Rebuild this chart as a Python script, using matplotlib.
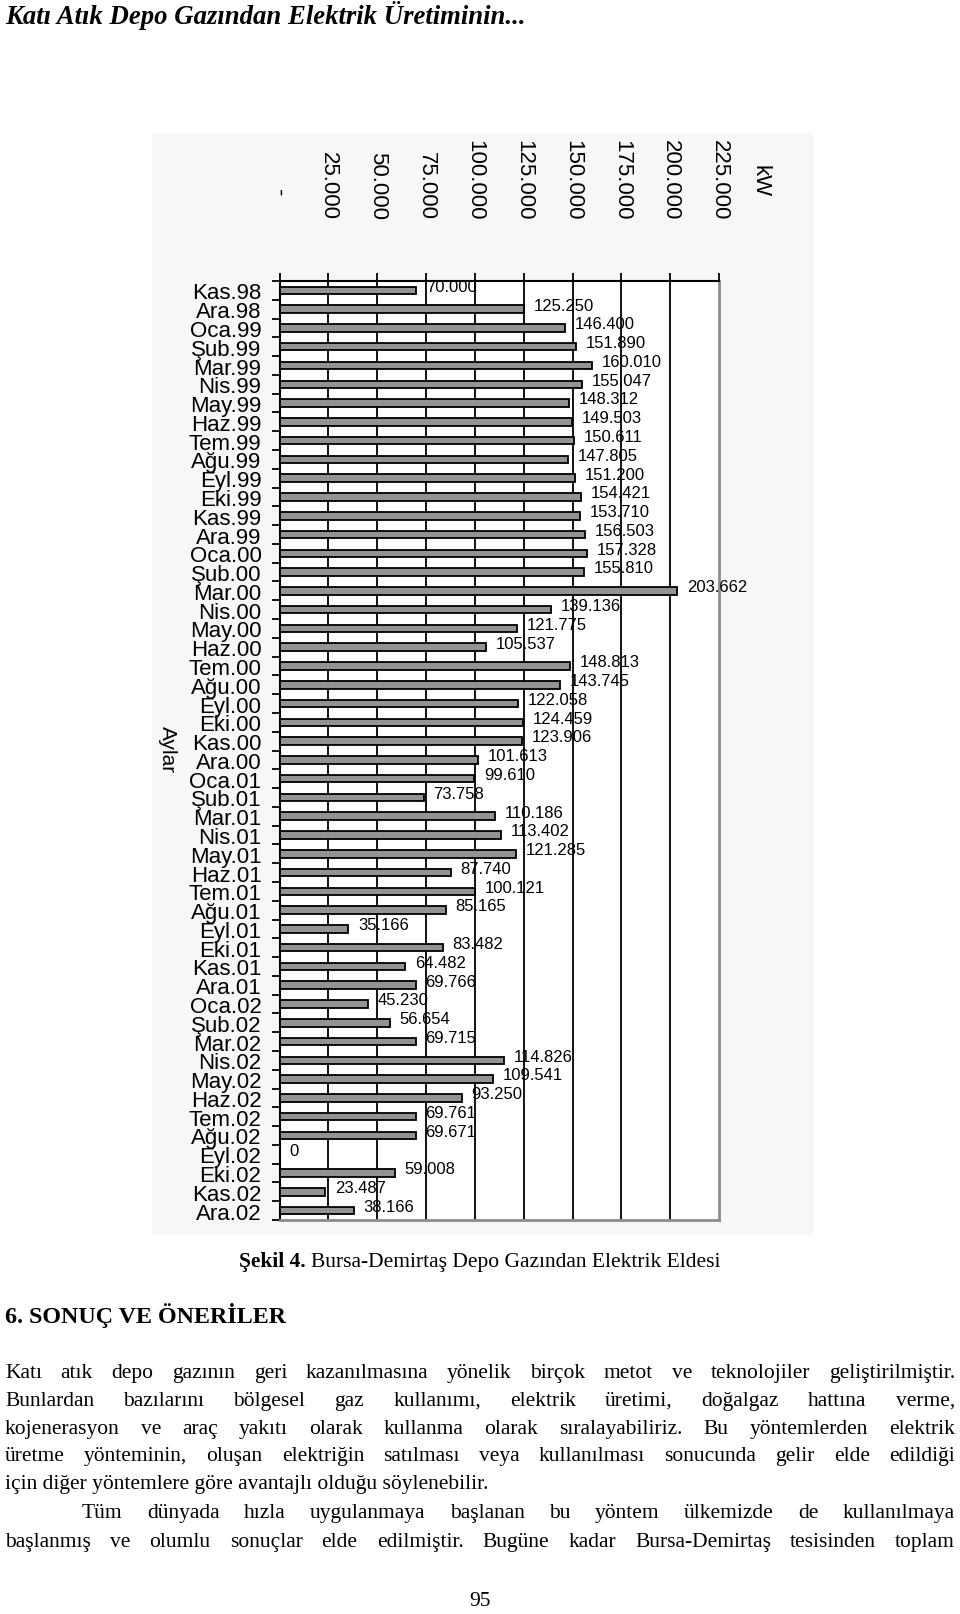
import matplotlib
matplotlib.use("Agg")
import matplotlib.pyplot as plt
from matplotlib.patches import Rectangle
import numpy as np

# ---------------- data ----------------
months = ["Kas.98", "Ara.98",
          "Oca.99", "Şub.99", "Mar.99", "Nis.99", "May.99", "Haz.99",
          "Tem.99", "Ağu.99", "Eyl.99", "Eki.99", "Kas.99", "Ara.99",
          "Oca.00", "Şub.00", "Mar.00", "Nis.00", "May.00", "Haz.00",
          "Tem.00", "Ağu.00", "Eyl.00", "Eki.00", "Kas.00", "Ara.00",
          "Oca.01", "Şub.01", "Mar.01", "Nis.01", "May.01", "Haz.01",
          "Tem.01", "Ağu.01", "Eyl.01", "Eki.01", "Kas.01", "Ara.01",
          "Oca.02", "Şub.02", "Mar.02", "Nis.02", "May.02", "Haz.02",
          "Tem.02", "Ağu.02", "Eyl.02", "Eki.02", "Kas.02", "Ara.02"]
power_kw = [70000, 125250,
            146400, 151890, 160010, 155047, 148312, 149503,
            150611, 147805, 151200, 154421, 153710, 156503,
            157328, 155810, 203662, 139136, 121775, 105537,
            148813, 143745, 122058, 124459, 123906, 101613,
            99610, 73758, 110186, 113402, 121285, 87740,
            100121, 85165, 35166, 83482, 64482, 69766,
            45230, 56654, 69715, 114826, 109541, 93250,
            69761, 69671, 0, 59008, 23487, 38166]
x_ticks = [0, 25000, 50000, 75000, 100000, 125000, 150000, 175000, 200000, 225000]
x_unit = "kW"
y_title = "Aylar"

header = "Katı Atık Depo Gazından Elektrik Üretiminin..."
caption_bold = "Şekil 4."
caption_rest = "Bursa-Demirtaş Depo Gazından Elektrik Eldesi"
section = "6. SONUÇ VE ÖNERİLER"
para_lines = [
    ("Katı atık depo gazının geri kazanılmasına yönelik birçok metot ve teknolojiler geliştirilmiştir.", True, 0),
    ("Bunlardan bazılarını bölgesel gaz kullanımı, elektrik üretimi, doğalgaz hattına verme,", True, 0),
    ("kojenerasyon ve araç yakıtı olarak kullanma olarak sıralayabiliriz. Bu yöntemlerden elektrik", True, 0),
    ("üretme yönteminin, oluşan elektriğin satılması veya kullanılması sonucunda gelir elde edildiği", True, 0),
    ("için diğer yöntemlere göre avantajlı olduğu söylenebilir.", False, 0),
    ("Tüm dünyada hızla uygulanmaya başlanan bu yöntem ülkemizde de kullanılmaya", True, 77),
    ("başlanmış ve olumlu sonuçlar elde edilmiştir. Bugüne kadar Bursa-Demirtaş tesisinden toplam", True, 0),
]
page_number = "95"

# ---------------- figure ----------------
W, H = 960, 1615
fig = plt.figure(figsize=(W / 100, H / 100), dpi=100)
fig.patch.set_facecolor("white")

def fx(px):
    return px / W

def fy(py):
    return 1 - py / H

# light gray chart background (pasted image)
fig.patches.append(Rectangle((fx(152), fy(1236)), fx(814) - fx(152), fy(134) - fy(1236),
                             transform=fig.transFigure, facecolor="#f7f7f7",
                             edgecolor="none", zorder=-5))

ax = fig.add_axes([fx(279.5), fy(1221), fx(719) - fx(279.5), fy(282) - fy(1221)])
ax.set_zorder(2)
ax.set_facecolor("white")

pos = np.arange(len(months))
ax.barh(pos, power_kw, height=0.4, color="#939393", edgecolor="black",
        linewidth=1.3, zorder=3)

ax.set_xlim(x_ticks[0], x_ticks[-1])
ax.set_ylim(len(months) - 0.5, -0.5)

for t in x_ticks[1:-1]:
    ax.axvline(t, color="black", lw=1.3, zorder=1)

# x ticks on top, rotated labels
ax.xaxis.tick_top()
ax.set_xticks(x_ticks)
xt_labels = []
for t in x_ticks:
    if t == 0:
        xt_labels.append("-    ")
    else:
        xt_labels.append(f"{t:,}".replace(",", "."))
ax.set_xticklabels(xt_labels, rotation=-90, fontsize=16, family="Liberation Sans")
ax.tick_params(axis="x", which="major", direction="out", length=5.5, width=1.3,
               pad=39, top=True, bottom=False)

# y: boundary ticks + centered labels
ax.set_yticks(np.arange(-0.5, len(months), 1.0))
ax.set_yticklabels([])
ax.set_yticks(pos, minor=True)
ax.set_yticklabels(months, minor=True, fontsize=16, family="Liberation Sans")
ax.tick_params(axis="y", which="major", direction="out", length=5.8, width=1.3)
ax.tick_params(axis="y", which="minor", length=0, pad=13)

for side in ("left", "top"):
    ax.spines[side].set_color("black")
    ax.spines[side].set_linewidth(1.5)
for side in ("right", "bottom"):
    ax.spines[side].set_color("#8c8c8c")
    ax.spines[side].set_linewidth(2)

# value labels
for i, v in enumerate(power_kw):
    lbl = "0" if v == 0 else f"{v:,}".replace(",", ".")
    ax.annotate(lbl, (v, i), xytext=(7, 3), textcoords="offset points",
                ha="left", va="center", fontsize=12, family="Liberation Sans",
                zorder=4)

fig.text(fx(760), fy(181), x_unit, rotation=-90, ha="center", va="center",
         fontsize=16, family="Liberation Sans")
fig.text(fx(167), fy(750), y_title, rotation=-90, ha="center", va="center",
         fontsize=15, family="Liberation Sans")

# ---------------- page text ----------------
renderer = fig.canvas.get_renderer()
SERIF = "Liberation Serif"

def width_px(s, **kw):
    t = fig.text(0, 0, s, **kw)
    w = t.get_window_extent(renderer).width
    t.remove()
    return w

def fit_size(s, target, **kw):
    w = width_px(s, fontsize=10, **kw)
    return 10 * target / w

# header
hs = fit_size(header, 522, family=SERIF, weight="bold", style="italic")
fig.text(fx(5), fy(24), header, fontsize=hs, family=SERIF, weight="bold",
         style="italic", ha="left", va="baseline")

# caption
body_size = 15.5
cap_bold_w = width_px(caption_bold + " ", fontsize=body_size, family=SERIF, weight="bold")
cap_rest_w = width_px(caption_rest, fontsize=body_size, family=SERIF)
cx0 = 480 - (cap_bold_w + cap_rest_w) / 2
fig.text(fx(cx0), fy(1267), caption_bold + " ", fontsize=body_size, family=SERIF,
         weight="bold", ha="left", va="baseline")
fig.text(fx(cx0 + cap_bold_w), fy(1267), caption_rest, fontsize=body_size,
         family=SERIF, ha="left", va="baseline")

# section title
ss = fit_size(section, 281, family=SERIF, weight="bold")
fig.text(fx(5), fy(1323), section, fontsize=ss, family=SERIF, weight="bold",
         ha="left", va="baseline")

# paragraph, justified
line_y = [1378, 1406, 1434, 1461, 1489, 1518, 1547]
x_left, x_right = 5, 955
for (line, just, indent), yb in zip(para_lines, line_y):
    words = line.split(" ")
    x0 = x_left + indent
    if just and len(words) > 1:
        ws = [width_px(w, fontsize=body_size, family=SERIF) for w in words]
        gap = (x_right - x0 - sum(ws)) / (len(words) - 1)
        x = x0
        for w, wpx in zip(words, ws):
            fig.text(fx(x), fy(yb), w, fontsize=body_size, family=SERIF,
                     ha="left", va="baseline")
            x += wpx + gap
    else:
        fig.text(fx(x0), fy(yb), line, fontsize=body_size, family=SERIF,
                 ha="left", va="baseline")

fig.text(fx(480), fy(1606), page_number, fontsize=body_size, family=SERIF,
         ha="center", va="baseline")

fig.savefig("out.png", dpi=100, facecolor="white")
